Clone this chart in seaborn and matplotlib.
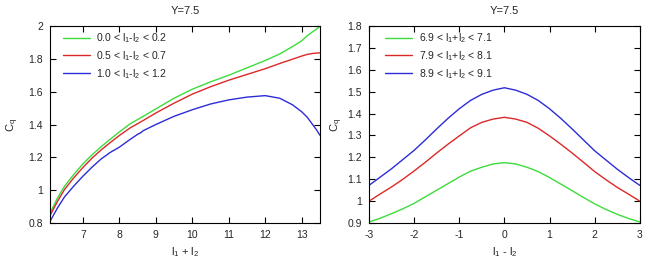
import numpy as np
import pandas as pd
import seaborn as sns
import matplotlib.pyplot as plt

# --- data ---
sum_x = [6.1, 6.3, 6.5, 6.75, 7.0, 7.25, 7.5, 7.75, 8.0, 8.3, 8.5, 8.6, 8.65, 9.0, 9.5, 10.0,
         10.5, 11.0, 11.5, 12.0, 12.4, 12.75, 13.0, 13.15, 13.3, 13.4, 13.5]
cq_d00 = [0.86, 0.95, 1.025, 1.095, 1.16, 1.215, 1.265, 1.31, 1.355, 1.405, 1.43, 1.443, 1.449,
          1.495, 1.56, 1.615, 1.66, 1.70, 1.745, 1.79, 1.83, 1.875, 1.91, 1.94, 1.965, 1.98, 1.997]
cq_d05 = [0.845, 0.93, 1.005, 1.075, 1.138, 1.195, 1.245, 1.29, 1.333, 1.38, 1.405, 1.418, 1.424,
          1.47, 1.53, 1.585, 1.63, 1.67, 1.705, 1.74, 1.772, 1.798, 1.817, 1.827, 1.833, 1.835, 1.837]
cq_d10 = [0.81, 0.89, 0.96, 1.025, 1.085, 1.14, 1.19, 1.23, 1.262, 1.31, 1.34, 1.352, 1.362,
          1.40, 1.45, 1.49, 1.525, 1.55, 1.567, 1.576, 1.56, 1.52, 1.478, 1.445, 1.40, 1.37, 1.335]

diff_x = [-3.0, -2.75, -2.5, -2.25, -2.0, -1.75, -1.5, -1.25, -1.0, -0.75, -0.5, -0.25, 0.0,
          0.25, 0.5, 0.75, 1.0, 1.25, 1.5, 1.75, 2.0, 2.25, 2.5, 2.75, 3.0]
cq_s7 = [0.905, 0.922, 0.943, 0.965, 0.99, 1.02, 1.05, 1.08, 1.11, 1.137, 1.155, 1.17, 1.176,
         1.17, 1.155, 1.135, 1.108, 1.078, 1.048, 1.017, 0.988, 0.962, 0.94, 0.921, 0.905]
cq_s8 = [1.0, 1.033, 1.065, 1.10, 1.138, 1.178, 1.22, 1.26, 1.298, 1.335, 1.36, 1.375, 1.383,
         1.375, 1.36, 1.333, 1.298, 1.26, 1.22, 1.178, 1.135, 1.098, 1.063, 1.032, 1.0]
cq_s9 = [1.072, 1.11, 1.148, 1.19, 1.232, 1.28, 1.33, 1.378, 1.422, 1.46, 1.488, 1.507, 1.518,
         1.507, 1.488, 1.46, 1.422, 1.378, 1.33, 1.28, 1.23, 1.188, 1.146, 1.108, 1.072]

left_labels = [r'0.0 < l$_1$-l$_2$ < 0.2', r'0.5 < l$_1$-l$_2$ < 0.7', r'1.0 < l$_1$-l$_2$ < 1.2']
right_labels = [r'6.9 < l$_1$+l$_2$ < 7.1', r'7.9 < l$_1$+l$_2$ < 8.1', r'8.9 < l$_1$+l$_2$ < 9.1']
colors = ['#3cdc3c', '#dc2828', '#2c2cd8']

left_df = pd.concat([pd.DataFrame({'x': sum_x, 'cq': v, 'bin': lab})
                     for v, lab in zip([cq_d00, cq_d05, cq_d10], left_labels)])
right_df = pd.concat([pd.DataFrame({'x': diff_x, 'cq': v, 'bin': lab})
                      for v, lab in zip([cq_s7, cq_s8, cq_s9], right_labels)])

sns.set_style('ticks')
plt.rcParams['font.family'] = ['Liberation Sans', 'DejaVu Sans']
plt.rcParams['mathtext.default'] = 'regular'
plt.rcParams['axes.unicode_minus'] = False

fig = plt.figure(figsize=(6.45, 2.64), dpi=100)
ax1 = fig.add_axes([0.0775, 0.155, 0.4185, 0.7465])
ax2 = fig.add_axes([0.572, 0.155, 0.42, 0.7465])

sns.lineplot(data=left_df, x='x', y='cq', hue='bin', palette=colors, ax=ax1, lw=1)
sns.lineplot(data=right_df, x='x', y='cq', hue='bin', palette=colors, ax=ax2, lw=1)

ax1.set_xlim(6.1, 13.5)
ax1.set_ylim(0.8, 2.0)
ax1.set_xticks(range(7, 14))
ax1.set_yticks([0.8, 1.0, 1.2, 1.4, 1.6, 1.8, 2.0])
ax1.set_yticklabels(['0.8', '1', '1.2', '1.4', '1.6', '1.8', '2'])
ax1.set_xlabel(r'l$_1$ + l$_2$', fontsize=8)
ax1.set_ylabel(r'C$_q$', fontsize=8, labelpad=5)

ax2.set_xlim(-3, 3)
ax2.set_ylim(0.9, 1.8)
ax2.set_xticks(range(-3, 4))
ax2.set_yticks(np.round(np.arange(0.9, 1.81, 0.1), 1))
ax2.set_yticklabels(['0.9', '1', '1.1', '1.2', '1.3', '1.4', '1.5', '1.6', '1.7', '1.8'])
ax2.set_xlabel(r'l$_1$ - l$_2$', fontsize=8)
ax2.set_ylabel(r'C$_q$', fontsize=8, labelpad=2)

for ax, bx in ((ax1, 0.033), (ax2, 0.045)):
    ax.set_title('Y=7.5', fontsize=8, pad=9)
    ax.tick_params(direction='in', top=True, right=True, labelsize=7.5, length=4,
                   width=0.8, color='black', pad=5)
    for sp in ax.spines.values():
        sp.set_linewidth(0.8)
        sp.set_color('black')
    ax.legend(loc='upper left', bbox_to_anchor=(bx, 0.995), frameon=False, fontsize=7.5,
              handlelength=2.6, handletextpad=0.6, labelspacing=0.4, borderaxespad=0,
              borderpad=0.4, title=None)

fig.savefig('out.png', dpi=100)
